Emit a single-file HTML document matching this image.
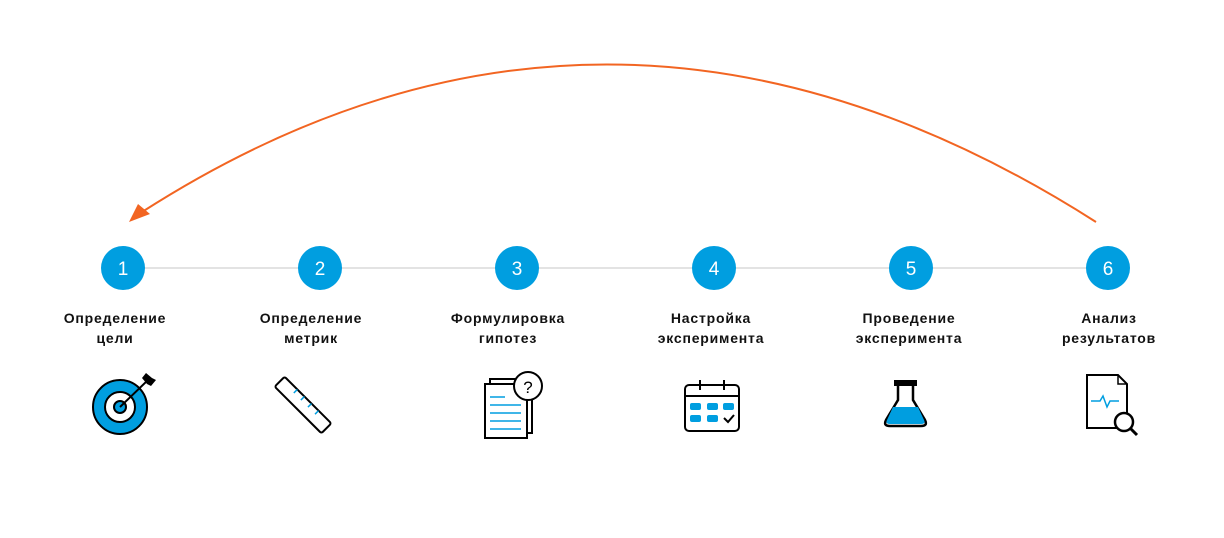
<!DOCTYPE html>
<html><head><meta charset="utf-8"><style>
body{margin:0;background:#fff}
svg{display:block}
text{font-family:"Liberation Sans",sans-serif}
.l{font-size:14px;letter-spacing:0.8px;font-weight:bold;fill:#111;text-anchor:middle}
.n{font-size:19px;fill:#fff;text-anchor:middle}
</style></head><body>
<svg width="1224" height="538" viewBox="0 0 1224 538">
<path d="M1096 222 Q610 -88 142 212" fill="none" stroke="#f26522" stroke-width="2"/>
<polygon points="129,222 150,214 138,204" fill="#f26522"/>
<line x1="123" y1="268" x2="1108" y2="268" stroke="#e3e3e3" stroke-width="2"/>
<g fill="#009ee0">
<circle cx="123" cy="268" r="22"/><circle cx="320" cy="268" r="22"/><circle cx="517" cy="268" r="22"/>
<circle cx="714" cy="268" r="22"/><circle cx="911" cy="268" r="22"/><circle cx="1108" cy="268" r="22"/>
</g>
<g class="n"><text x="123" y="275">1</text><text x="320" y="275">2</text><text x="517" y="275">3</text><text x="714" y="275">4</text><text x="911" y="275">5</text><text x="1108" y="275">6</text></g>
<g class="l">
<text x="115" y="323">Определение</text><text x="115" y="343">цели</text>
<text x="311" y="323">Определение</text><text x="311" y="343">метрик</text>
<text x="508" y="323">Формулировка</text><text x="508" y="343">гипотез</text>
<text x="711" y="323">Настройка</text><text x="711" y="343">эксперимента</text>
<text x="909" y="323">Проведение</text><text x="909" y="343">эксперимента</text>
<text x="1109" y="323">Анализ</text><text x="1109" y="343">результатов</text>
</g>
<!-- target -->
<circle cx="120" cy="407" r="27" fill="#009ee0" stroke="#000" stroke-width="2"/>
<circle cx="120" cy="407" r="15" fill="#fff" stroke="#000" stroke-width="2"/>
<circle cx="120" cy="407" r="6" fill="#009ee0" stroke="#000" stroke-width="2"/>
<line x1="120" y1="407" x2="148" y2="380" stroke="#000" stroke-width="2"/>
<polygon points="142,378 146,373 152,378 156,380 151,386 147,384" fill="#000"/>
<!-- ruler -->
<g transform="translate(303,405) rotate(45)">
<rect x="-33" y="-7" width="66" height="14" rx="2" fill="#fff" stroke="#000" stroke-width="2"/>
<g stroke="#009ee0" stroke-width="1.5"><line x1="-15" y1="-7" x2="-15" y2="-2"/><line x1="-5" y1="-7" x2="-5" y2="-2"/><line x1="5" y1="-7" x2="5" y2="-2"/><line x1="15" y1="-7" x2="15" y2="-2"/></g>
</g>
<!-- docs -->
<rect x="490" y="379" width="42" height="54" fill="#fff" stroke="#000" stroke-width="2"/>
<rect x="485" y="384" width="42" height="54" fill="#fff" stroke="#000" stroke-width="2"/>
<g stroke="#009ee0" stroke-width="1.5"><line x1="490" y1="397" x2="505" y2="397"/><line x1="490" y1="405" x2="521" y2="405"/><line x1="490" y1="413" x2="521" y2="413"/><line x1="490" y1="421" x2="521" y2="421"/><line x1="490" y1="429" x2="521" y2="429"/></g>
<circle cx="528" cy="386" r="14" fill="#fff" stroke="#000" stroke-width="2"/>
<text x="528" y="393" font-size="17" text-anchor="middle" fill="#000">?</text>
<!-- calendar -->
<rect x="685" y="385" width="54" height="46" rx="4" fill="#fff" stroke="#000" stroke-width="2"/>
<line x1="685" y1="396" x2="739" y2="396" stroke="#000" stroke-width="2"/>
<line x1="700" y1="380" x2="700" y2="390" stroke="#000" stroke-width="2"/><line x1="724" y1="380" x2="724" y2="390" stroke="#000" stroke-width="2"/>
<g fill="#009ee0"><rect x="690" y="403" width="11" height="7" rx="2"/><rect x="707" y="403" width="11" height="7" rx="2"/><rect x="723" y="403" width="11" height="7" rx="2"/><rect x="690" y="415" width="11" height="7" rx="2"/><rect x="707" y="415" width="11" height="7" rx="2"/></g>
<polyline points="724,418 728,422 734,415" fill="none" stroke="#000" stroke-width="2"/>
<!-- flask -->
<rect x="894" y="380" width="23" height="6" fill="#000"/>
<path d="M898 386 V400 L886 420 Q883 426 890 426 H921 Q928 426 925 420 L913 400 V386" fill="#fff" stroke="#000" stroke-width="2.5"/>
<path d="M893 407 H918 L924 420 Q926 424 921 424 H890 Q885 424 887 420 Z" fill="#009ee0"/>
<!-- analysis -->
<path d="M1087 375 H1118 L1127 384 V428 H1087 Z" fill="#fff" stroke="#000" stroke-width="2"/>
<polyline points="1118,375 1118,384 1127,384" fill="none" stroke="#000" stroke-width="1.5"/>
<polyline points="1091,401 1100,401 1103,396 1107,407 1110,401 1119,401" fill="none" stroke="#009ee0" stroke-width="1.5"/>
<circle cx="1124" cy="422" r="9" fill="#fff" stroke="#000" stroke-width="2.5"/>
<line x1="1130" y1="428" x2="1137" y2="435" stroke="#000" stroke-width="3"/>
</svg>
</body></html>
